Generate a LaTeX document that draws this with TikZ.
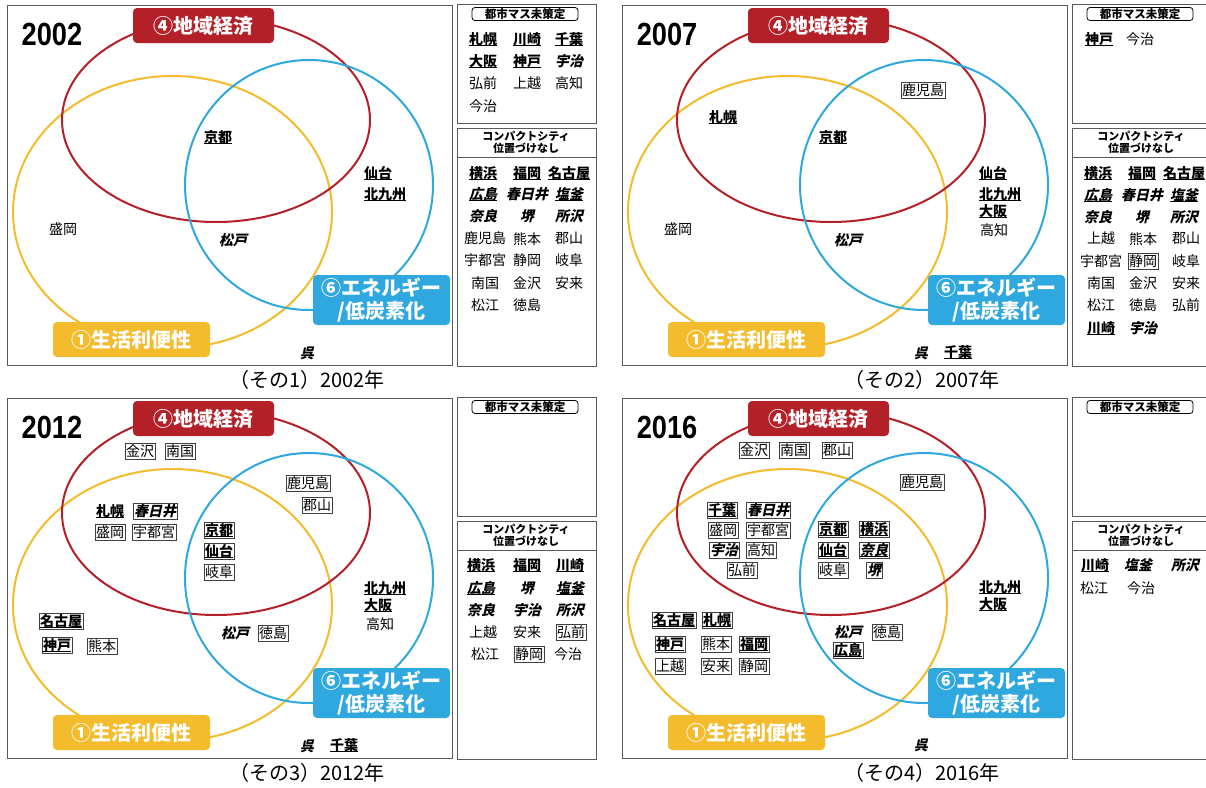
\documentclass[tikz,border=0pt]{standalone}
\usepackage{fontspec}
\newfontfamily\jp{Noto Sans CJK JP}
\newfontfamily\jpsl[FakeSlant=0.22]{Noto Sans CJK JP}
\newfontfamily\narrow[FakeStretch=0.85]{Liberation Sans}
\definecolor{vred}{RGB}{180,32,40}
\definecolor{vyellow}{RGB}{244,187,44}
\definecolor{vblue}{RGB}{46,168,222}
\definecolor{framegray}{RGB}{90,90,90}
\newcommand\ulx[1]{\sbox0{#1}\leavevmode\rlap{\usebox0}\rule[-2pt]{\wd0}{0.8pt}}
\newcommand\CB[1]{\ulx{\bfseries #1}}
\newcommand\CI[1]{{\jpsl\bfseries #1}}
\newcommand\CIU[1]{\ulx{\jpsl\bfseries #1}}
\tikzset{
  frame/.style={draw=framegray, line width=1pt},
  ell/.style={line width=2pt},
  lab/.style={rounded corners=4pt, text=white, font=\jp\bfseries\fontsize{20}{23}\selectfont, inner sep=0pt, align=center},
  yearlab/.style={font=\narrow\bfseries\fontsize{32}{32}\selectfont, inner sep=0pt},
  captext/.style={font=\jp\fontsize{20}{20}\selectfont, inner sep=0pt},
  hdr/.style={font=\jp\bfseries\fontsize{11.5}{12}\selectfont, inner sep=0pt},
  city/.style={font=\jp\fontsize{14}{14}\selectfont, inner sep=1pt, text height=12pt, text depth=2pt},
  bx/.style={city, draw=black!75, line width=0.6pt},
}
\newcommand\Panel[5]{%
\begin{scope}[shift={(#2,#3)}]
\draw[frame] (7,5) rectangle (452,365);
\draw[frame] (457,4) rectangle (596,123);
\draw[frame] (457,128) rectangle (596,366);
\draw[frame] (457,157) -- (596,157);
\draw[ell, vyellow] (172.5,212) ellipse [x radius=159.5pt, y radius=136pt];
\draw[ell, vred] (216,120) ellipse [x radius=154pt, y radius=102pt];
\draw[ell, vblue] (309,185) ellipse [x radius=124pt, y radius=125pt];
\node[lab, fill=vred, minimum width=141pt, minimum height=35pt] (#1-lred) at (203.5,25.5) {④地域経済};
\node[lab, fill=vyellow, minimum width=157pt, minimum height=35pt] (#1-lyel) at (131.5,339.5) {①生活利便性};
\node[lab, fill=vblue, minimum width=137pt, minimum height=50pt] (#1-lblue) at (381.5,300) {⑥エネルギー\\/低炭素化};
\node[yearlab] (#1-year) at (52,34) {#4};
\node[captext] (#1-cap) at (307,380) {（その#5）#4年};
\node[hdr, draw, line width=0.8pt, rounded corners=3pt, minimum width=106pt, minimum height=13pt] (#1-mas) at (525,14) {都市マス未策定};
\node[hdr, align=center, font=\jp\bfseries\fontsize{11}{11.5}\selectfont] (#1-cc) at (526,142.5) {コンパクトシティ\\位置づけなし};
\end{scope}}
\begin{document}
\begin{tikzpicture}[x=1pt, y=-1pt]
\useasboundingbox (0,0) rectangle (1206,787);
\fill[white] (0,0) rectangle (1206,787);
% ---------------- Panel 1: 2002 ----------------
\Panel{a}{0}{0}{2002}{1}
\begin{scope}
\node[city] (a1) at (218,137) {\CB{京都}};
\node[city] (a2) at (378,173) {\CB{仙台}};
\node[city] (a3) at (385,194) {\CB{北九州}};
\node[city] (a4) at (63,229) {盛岡};
\node[city] (a5) at (233,240) {\CI{松戸}};
\node[city] (a6) at (307,353) {\CI{呉}};
% side top
\node[city] (a7) at (483,39) {\CB{札幌}};
\node[city] (a8) at (527,39) {\CB{川崎}};
\node[city] (a9) at (569,39) {\CB{千葉}};
\node[city] (a10) at (483,61) {\CB{大阪}};
\node[city] (a11) at (527,61) {\CB{神戸}};
\node[city] (a12) at (569,61) {\CI{宇治}};
\node[city] (a13) at (483,83) {弘前};
\node[city] (a14) at (527,83) {上越};
\node[city] (a15) at (569,83) {高知};
\node[city] (a16) at (483,106) {今治};
% side bottom
\node[city] (a17) at (483,173) {\CB{横浜}};
\node[city] (a18) at (527,173) {\CB{福岡}};
\node[city] (a19) at (569,173) {\CB{名古屋}};
\node[city] (a20) at (483,194) {\CIU{広島}};
\node[city] (a21) at (527,194) {\CI{春日井}};
\node[city] (a22) at (569,194) {\CIU{塩釜}};
\node[city] (a23) at (483,216) {\CI{奈良}};
\node[city] (a24) at (527,216) {\CI{堺}};
\node[city] (a25) at (569,216) {\CI{所沢}};
\node[city] (a26) at (485,238) {鹿児島};
\node[city] (a27) at (527,239) {熊本};
\node[city] (a28) at (569,238) {郡山};
\node[city] (a29) at (485,260) {宇都宮};
\node[city] (a30) at (527,260) {静岡};
\node[city] (a31) at (569,260) {岐阜};
\node[city] (a32) at (485,283) {南国};
\node[city] (a33) at (527,283) {金沢};
\node[city] (a34) at (569,283) {安来};
\node[city] (a35) at (485,305) {松江};
\node[city] (a36) at (527,305) {徳島};
\end{scope}
% ---------------- Panel 2: 2007 ----------------
\Panel{b}{615}{0}{2007}{2}
\begin{scope}[shift={(615,0)}]
\node[bx] (b1) at (308,90) {鹿児島};
\node[city] (b2) at (108,117) {\CB{札幌}};
\node[city] (b3) at (218,137) {\CB{京都}};
\node[city] (b4) at (378,173) {\CB{仙台}};
\node[city] (b5) at (385,194) {\CB{北九州}};
\node[city] (b6) at (378,211) {\CB{大阪}};
\node[city] (b7) at (379,230) {高知};
\node[city] (b8) at (63,229) {盛岡};
\node[city] (b9) at (233,240) {\CI{松戸}};
\node[city] (b10) at (306,353) {\CI{呉}};
\node[city] (b11) at (343,352) {\CB{千葉}};
% side top
\node[city] (b12) at (484,39) {\CB{神戸}};
\node[city] (b13) at (525,39) {今治};
% side bottom
\node[city] (b14) at (483,173) {\CB{横浜}};
\node[city] (b15) at (527,173) {\CB{福岡}};
\node[city] (b16) at (569,173) {\CB{名古屋}};
\node[city] (b17) at (483,195) {\CIU{広島}};
\node[city] (b18) at (527,195) {\CI{春日井}};
\node[city] (b19) at (569,195) {\CIU{塩釜}};
\node[city] (b20) at (483,217) {\CI{奈良}};
\node[city] (b21) at (527,217) {\CI{堺}};
\node[city] (b22) at (569,217) {\CI{所沢}};
\node[city] (b23) at (486,238) {上越};
\node[city] (b24) at (528,239) {熊本};
\node[city] (b25) at (571,238) {郡山};
\node[city] (b26) at (486,261) {宇都宮};
\node[bx] (b27) at (528,261) {静岡};
\node[city] (b28) at (571,261) {岐阜};
\node[city] (b29) at (486,283) {南国};
\node[city] (b30) at (528,283) {金沢};
\node[city] (b31) at (571,283) {安来};
\node[city] (b32) at (486,305) {松江};
\node[city] (b33) at (528,305) {徳島};
\node[city] (b34) at (571,305) {弘前};
\node[city] (b35) at (486,328) {\CB{川崎}};
\node[city] (b36) at (528,328) {\CI{宇治}};
\end{scope}
% ---------------- Panel 3: 2012 ----------------
\Panel{c}{0}{393}{2012}{3}
\begin{scope}[shift={(0,393)}]
\node[bx] (c1) at (140,58) {金沢};
\node[bx] (c2) at (180,58) {南国};
\node[bx] (c3) at (308,90) {鹿児島};
\node[bx] (c4) at (317,112) {郡山};
\node[city] (c5) at (110,118) {\CB{札幌}};
\node[bx] (c6) at (155,118) {\CI{春日井}};
\node[bx] (c7) at (110,139) {盛岡};
\node[bx] (c8) at (154,139) {宇都宮};
\node[bx] (c9) at (219,137) {\CB{京都}};
\node[bx] (c10) at (219,158) {\CB{仙台}};
\node[bx] (c11) at (219,179) {岐阜};
\node[city] (c12) at (385,195) {\CB{北九州}};
\node[city] (c13) at (378,212) {\CB{大阪}};
\node[city] (c14) at (380,231) {高知};
\node[bx] (c15) at (61,228) {\CB{名古屋}};
\node[bx] (c16) at (57,252) {\CB{神戸}};
\node[bx] (c17) at (102,253) {熊本};
\node[city] (c18) at (235,240) {\CI{松戸}};
\node[bx] (c19) at (273,240) {徳島};
\node[city] (c20) at (307,353) {\CI{呉}};
\node[city] (c21) at (344,352) {\CB{千葉}};
% side bottom
\node[city] (c22) at (481,172) {\CB{横浜}};
\node[city] (c23) at (527,172) {\CB{福岡}};
\node[city] (c24) at (570,172) {\CB{川崎}};
\node[city] (c25) at (481,195) {\CIU{広島}};
\node[city] (c26) at (527,195) {\CI{堺}};
\node[city] (c27) at (570,195) {\CIU{塩釜}};
\node[city] (c28) at (481,217) {\CI{奈良}};
\node[city] (c29) at (527,217) {\CI{宇治}};
\node[city] (c30) at (570,217) {\CI{所沢}};
\node[city] (c31) at (483,239) {上越};
\node[city] (c32) at (527,239) {安来};
\node[bx] (c33) at (571,239) {弘前};
\node[city] (c34) at (485,261) {松江};
\node[bx] (c35) at (529,261) {静岡};
\node[city] (c36) at (568,261) {今治};
\end{scope}
% ---------------- Panel 4: 2016 ----------------
\Panel{d}{615}{393}{2016}{4}
\begin{scope}[shift={(615,393)}]
\node[bx] (d1) at (139,57) {金沢};
\node[bx] (d2) at (179,57) {南国};
\node[bx] (d3) at (222,57) {郡山};
\node[bx] (d4) at (307,89) {鹿児島};
\node[bx] (d5) at (107,117) {\CB{千葉}};
\node[bx] (d6) at (153,117) {\CI{春日井}};
\node[bx] (d7) at (108,137) {盛岡};
\node[bx] (d8) at (153,137) {宇都宮};
\node[bx] (d9) at (109,157) {\CI{宇治}};
\node[bx] (d10) at (146,157) {高知};
\node[bx] (d11) at (127,177) {弘前};
\node[bx] (d12) at (218,136) {\CB{京都}};
\node[bx] (d13) at (259,136) {\CB{横浜}};
\node[bx] (d14) at (218,157) {\CB{仙台}};
\node[bx] (d15) at (259,157) {\CIU{奈良}};
\node[bx] (d16) at (218,177) {岐阜};
\node[bx] (d17) at (259,177) {\CI{堺}};
\node[city] (d18) at (385,194) {\CB{北九州}};
\node[city] (d19) at (378,211) {\CB{大阪}};
\node[bx] (d20) at (59,227) {\CB{名古屋}};
\node[bx] (d21) at (102,227) {\CB{札幌}};
\node[bx] (d22) at (55,251) {\CB{神戸}};
\node[bx] (d23) at (101,251) {熊本};
\node[bx] (d24) at (139,251) {\CB{福岡}};
\node[bx] (d25) at (55,273) {上越};
\node[bx] (d26) at (101,273) {安来};
\node[bx] (d27) at (139,273) {静岡};
\node[city] (d28) at (233,239) {\CI{松戸}};
\node[bx] (d29) at (272,239) {徳島};
\node[bx] (d30) at (233,257) {\CB{広島}};
\node[city] (d31) at (306,352) {\CI{呉}};
% side bottom
\node[city] (d32) at (480,172) {\CB{川崎}};
\node[city] (d33) at (523,172) {\CI{塩釜}};
\node[city] (d34) at (570,172) {\CI{所沢}};
\node[city] (d35) at (479,195) {松江};
\node[city] (d36) at (526,195) {今治};
\end{scope}
\end{tikzpicture}
\end{document}
